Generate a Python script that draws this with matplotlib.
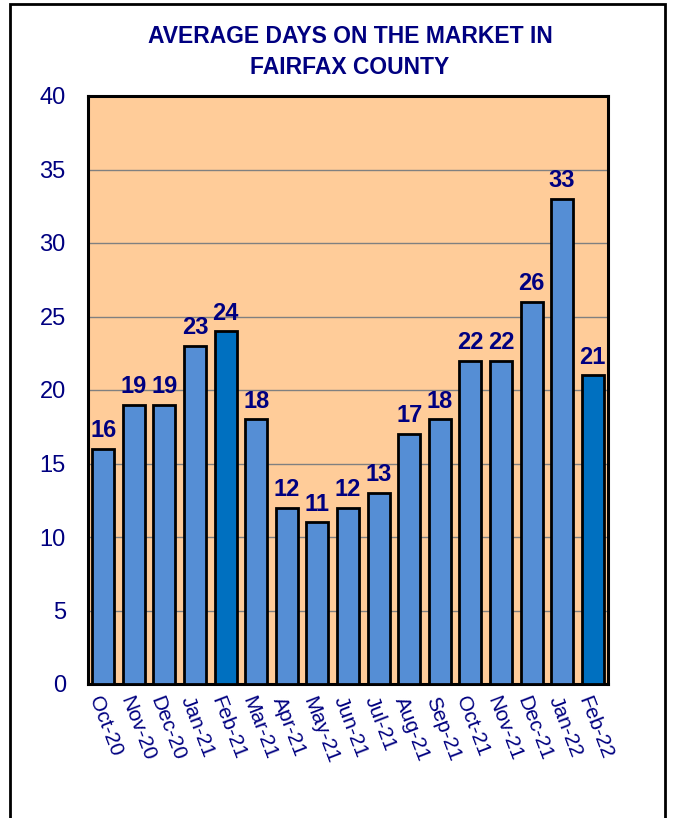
import matplotlib.pyplot as plt
from matplotlib.patches import Rectangle

months = ["Oct-20", "Nov-20", "Dec-20", "Jan-21", "Feb-21", "Mar-21", "Apr-21",
          "May-21", "Jun-21", "Jul-21", "Aug-21", "Sep-21", "Oct-21", "Nov-21",
          "Dec-21", "Jan-22", "Feb-22"]
days = [16, 19, 19, 23, 24, 18, 12, 11, 12, 13, 17, 18, 22, 22, 26, 33, 21]
highlight = ["Feb-21", "Feb-22"]

navy = "#000080"
plt.rcParams["font.family"] = ["Liberation Sans", "DejaVu Sans"]

fig = plt.figure(figsize=(6.73, 8.18), dpi=100)
fig.patches.append(Rectangle((10 / 673, -0.05), 655 / 673, 1.05 - 4 / 818,
                             transform=fig.transFigure, fill=False,
                             edgecolor="black", linewidth=2))

ax = fig.add_axes([88 / 673, 1 - 684 / 818, 520 / 673, 588 / 818])
ax.set_facecolor("#FFCC99")

colors = ["#0070C0" if m in highlight else "#558ED5" for m in months]
x = range(len(months))
bars = ax.bar(x, days, width=0.72, color=colors, edgecolor="black",
              linewidth=2, zorder=3)

for b, v in zip(bars, days):
    ax.text(b.get_x() + b.get_width() / 2, v + 0.45, str(v), ha="center",
            va="bottom", fontsize=17, fontweight="bold", color=navy, zorder=4)

ax.set_xlim(-0.5, len(months) - 0.5)
ax.set_ylim(0, 40)
ax.set_yticks(range(0, 41, 5))
ax.yaxis.grid(True, color="#808080", linewidth=1)
ax.set_axisbelow(True)
for s in ax.spines.values():
    s.set_linewidth(2.2)
    s.set_color("black")

ax.set_xticks(list(x))
ax.set_xticklabels(months, rotation=-69, ha="left", va="top",
                   rotation_mode="anchor", fontsize=15, color=navy)
ax.tick_params(axis="x", length=0, pad=7)
ax.tick_params(axis="y", length=0, pad=16, labelsize=17, labelcolor=navy)

fig.text(350 / 673, 1 - 52 / 818, "AVERAGE DAYS ON THE MARKET IN\nFAIRFAX COUNTY",
         ha="center", va="center", fontsize=16.5, fontweight="bold", color=navy,
         linespacing=1.45)

fig.savefig("out.png", dpi=100)
